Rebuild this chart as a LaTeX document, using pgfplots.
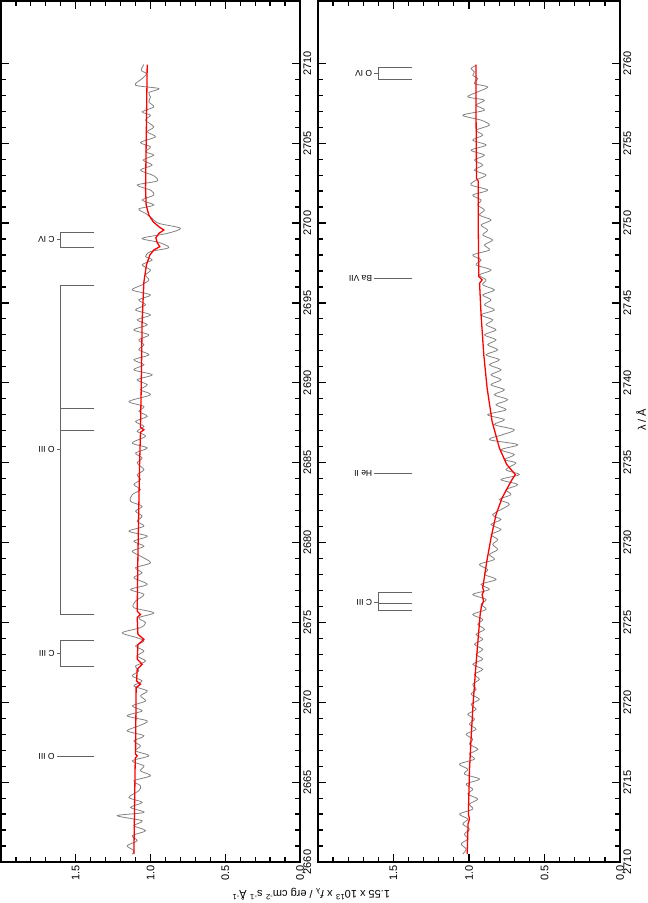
\documentclass[border=0pt]{standalone}
\usepackage{pgfplots}
\pgfplotsset{compat=1.18}
\usepackage{pgfplotstable}
\usepackage{fontspec}
\setmainfont{Liberation Sans}
\definecolor{specgray}{RGB}{130,130,130}
\definecolor{idgray}{RGB}{100,100,100}

\pgfplotstableread{
wl f
2709.92 1.044
2709.56 1.062
2709.35 1.027
2709.04 1.056
2708.63 1.100
2708.42 0.944
2708.17 1.011
2707.90 1.000
2707.58 1.011
2707.27 0.978
2706.96 1.056
2706.75 1.000
2706.44 1.033
2706.02 0.978
2705.71 1.022
2705.40 0.967
2705.04 1.067
2704.77 1.000
2704.46 1.033
2704.25 0.978
2703.94 1.049
2703.63 0.989
2703.31 1.067
2702.96 0.978
2702.63 0.956
2702.38 1.089
2702.06 1.000
2701.75 0.978
2701.44 1.056
2701.13 0.978
2700.88 1.078
2700.60 1.033
2700.29 0.989
2699.98 0.944
2699.67 0.800
2699.35 0.889
2699.04 1.056
2698.79 0.944
2698.46 0.878
2698.21 1.000
2697.90 1.033
2697.69 0.989
2697.38 1.056
2697.06 1.000
2696.75 1.033
2696.44 1.011
2696.13 1.056
2695.81 1.122
2695.50 1.000
2695.19 1.078
2694.88 1.033
2694.56 1.100
2694.25 1.000
2693.94 1.089
2693.63 1.022
2693.31 1.111
2693.00 1.011
2692.69 1.078
2692.38 1.044
2692.06 1.078
2691.75 1.011
2691.44 1.111
2691.13 1.044
2690.81 1.111
2690.50 0.989
2690.19 1.089
2689.88 1.022
2689.56 1.067
2689.25 1.000
2688.83 1.144
2688.52 1.044
2688.21 1.078
2687.90 1.022
2687.58 1.100
2687.27 1.044
2686.96 1.089
2686.65 1.033
2686.23 1.122
2685.92 1.022
2685.60 1.100
2685.29 1.056
2684.98 1.089
2684.56 1.044
2684.25 1.089
2683.94 1.067
2683.63 1.111
2683.31 1.067
2683.00 1.122
2682.58 1.133
2682.27 1.056
2681.96 1.100
2681.65 1.056
2681.33 1.089
2681.02 1.044
2680.71 1.144
2680.40 1.022
2680.08 1.111
2679.77 1.044
2679.46 1.122
2679.15 1.067
2678.73 1.000
2678.42 1.100
2678.10 1.056
2677.79 1.111
2677.38 1.022
2677.06 1.133
2676.75 1.044
2676.33 1.100
2675.92 1.111
2675.60 0.978
2675.29 1.078
2674.98 1.033
2674.67 1.067
2674.35 1.189
2674.04 1.089
2673.83 1.044
2673.52 1.100
2673.21 1.044
2672.90 1.089
2672.58 1.033
2672.27 1.100
2671.96 1.078
2671.65 1.122
2671.33 1.056
2671.02 1.111
2670.71 1.022
2670.40 1.067
2670.08 1.033
2669.77 1.122
2669.46 1.056
2669.15 1.156
2668.83 1.022
2668.52 1.078
2668.21 1.156
2667.90 1.044
2667.58 1.111
2667.27 1.067
2666.96 1.100
2666.65 1.011
2666.33 1.122
2666.02 1.044
2665.71 1.067
2665.40 1.000
2665.08 1.111
2664.77 1.067
2664.46 1.078
2664.04 1.144
2663.73 1.056
2663.42 1.133
2663.10 1.044
2662.90 1.222
2662.58 1.056
2662.27 1.111
2661.96 1.033
2661.65 1.122
2661.33 1.089
2661.02 1.156
2660.71 1.111
2660.50 1.122
}\leftgray

\pgfplotstableread{
wl f
2709.92 1.022
2706.33 1.027
2702.17 1.033
2701.13 1.029
2700.50 1.011
2700.08 0.982
2699.77 0.944
2699.56 0.911
2699.35 0.944
2699.08 0.964
2698.79 0.956
2698.52 0.938
2698.31 0.978
2698.00 1.004
2697.38 1.027
2696.33 1.044
2693.83 1.056
2689.67 1.062
2687.20 1.067
2687.06 1.044
2686.90 1.067
2684.88 1.073
2679.25 1.084
2675.70 1.089
2675.50 1.067
2675.30 1.089
2674.25 1.084
2673.94 1.044
2673.60 1.084
2672.70 1.089
2672.38 1.056
2672.06 1.089
2671.33 1.093
2671.13 1.067
2670.92 1.096
2666.75 1.100
2666.65 1.089
2666.50 1.102
2660.50 1.111
}\leftred

\pgfplotstableread{
wl f
2759.88 0.953
2759.67 0.986
2759.46 0.964
2759.25 0.975
2759.04 0.942
2758.73 0.964
2758.52 0.876
2758.21 0.942
2757.90 1.008
2757.69 0.898
2757.38 0.953
2757.06 0.898
2756.75 1.041
2756.44 0.920
2756.13 0.865
2755.81 0.953
2755.50 0.909
2755.19 0.975
2754.88 0.887
2754.56 0.986
2754.25 0.898
2753.94 0.964
2753.63 0.909
2753.31 0.964
2753.00 0.887
2752.69 0.953
2752.38 0.986
2752.06 0.876
2751.75 0.975
2751.44 0.920
2751.13 0.942
2750.81 0.898
2750.50 0.931
2750.19 0.854
2749.88 0.920
2749.56 0.876
2749.25 0.909
2748.94 0.843
2748.63 0.898
2748.31 0.865
2748.00 0.975
2747.69 0.920
2747.38 0.953
2747.06 0.854
2746.75 0.931
2746.44 0.887
2746.13 0.909
2745.81 0.832
2745.50 0.909
2745.19 0.854
2744.88 0.898
2744.56 0.832
2744.25 0.920
2743.94 0.843
2743.63 0.887
2743.31 0.821
2743.00 0.898
2742.69 0.821
2742.38 0.876
2742.06 0.810
2741.75 0.887
2741.44 0.799
2741.13 0.865
2740.81 0.788
2740.50 0.854
2740.19 0.788
2739.88 0.854
2739.56 0.766
2739.25 0.832
2738.94 0.744
2738.63 0.821
2738.31 0.755
2738.00 0.876
2737.69 0.766
2737.38 0.832
2737.06 0.700
2736.75 0.777
2736.44 0.865
2736.13 0.678
2735.81 0.788
2735.50 0.700
2735.19 0.766
2734.98 0.689
2734.56 0.755
2734.25 0.667
2733.94 0.788
2733.63 0.678
2733.31 0.755
2733.00 0.722
2732.69 0.799
2732.38 0.733
2731.75 0.843
2731.44 0.788
2731.13 0.854
2730.81 0.788
2730.50 0.854
2730.19 0.810
2729.88 0.843
2729.56 0.810
2729.25 0.865
2728.94 0.832
2728.63 0.931
2728.31 0.876
2728.00 0.898
2727.69 0.821
2727.38 0.920
2727.06 0.865
2726.75 0.975
2726.44 0.887
2726.13 0.920
2725.81 0.887
2725.50 0.975
2725.19 0.909
2724.88 0.942
2724.56 0.898
2724.25 0.953
2723.94 0.909
2723.63 0.964
2723.31 0.909
2723.00 0.953
2722.69 0.909
2722.38 0.975
2722.06 0.909
2721.75 0.964
2721.44 0.931
2721.13 0.975
2720.81 0.953
2720.50 0.986
2720.19 0.931
2719.88 0.986
2719.56 0.953
2719.25 1.008
2718.94 0.964
2718.63 0.997
2718.31 0.953
2718.00 1.019
2717.69 0.975
2717.38 0.997
2717.06 0.942
2716.75 0.997
2716.44 0.964
2716.13 1.063
2715.81 1.008
2715.50 1.030
2715.19 0.931
2714.88 1.019
2714.56 0.975
2714.25 1.008
2713.94 0.942
2713.63 0.997
2713.31 0.975
2713.00 1.063
2712.69 1.008
2712.38 1.041
2712.06 0.997
2711.75 1.030
2711.44 1.008
2711.13 1.052
2710.81 1.019
2710.50 1.041
}\rightgray

\pgfplotstableread{
wl f
2759.92 0.953
2756.33 0.953
2752.79 0.950
2752.63 0.939
2750.08 0.939
2746.65 0.935
2746.44 0.913
2746.23 0.930
2744.25 0.920
2741.75 0.902
2739.67 0.880
2737.58 0.847
2735.92 0.799
2734.88 0.750
2734.25 0.693
2733.94 0.715
2733.63 0.733
2732.79 0.781
2731.75 0.821
2730.29 0.854
2728.83 0.882
2727.17 0.909
2726.96 0.902
2726.75 0.913
2726.33 0.904
2726.00 0.918
2725.50 0.926
2724.04 0.939
2721.96 0.957
2719.88 0.973
2717.79 0.986
2715.71 0.997
2713.00 1.004
2712.69 0.997
2712.40 1.006
2710.50 1.012
}\rightred

\tikzset{idlab/.style={rotate=180, anchor=west, inner sep=0pt, font=\fontsize{8.5}{10}\selectfont}}

\begin{document}
\begin{tikzpicture}
\useasboundingbox (0pt,0pt) rectangle (648pt,903pt);
\pgfplotsset{
  panel/.style={
    anchor=south west, scale only axis, height=861pt,
    x dir=reverse, xmin=0, xmax=2,
    xtick={0,0.5,1,1.5},
    minor xtick={0.1,0.2,0.3,0.4,0.6,0.7,0.8,0.9,1.1,1.2,1.3,1.4,1.6,1.7,1.8,1.9},
    minor y tick num=4,
    xtick pos=both, ytick pos=both, yticklabel pos=right,
    tick align=inside,
    major tick length=8pt, minor tick length=5pt,
    every tick/.append style={line width=1.2pt, black},
    axis line style={line width=1.4pt},
    scaled ticks=false,
    /pgf/number format/assume math mode=true,
    tick label style={font=\fontsize{11}{13}\selectfont},
    xticklabel style={rotate=90, anchor=east, /pgf/number format/.cd, fixed, fixed zerofill, precision=1},
    yticklabel style={rotate=90, anchor=north, /pgf/number format/.cd, set thousands separator={}},
  },
  spec/.style={specgray, line width=0.8pt, no markers, smooth, tension=0.5},
  model/.style={red, line width=1.3pt, no markers},
  idl/.style={idgray, line width=0.8pt, no markers},
}
% ---------- left panel (2660-2714) ----------
\begin{axis}[panel, at={(1pt,41pt)}, width=299pt,
  ymin=2660, ymax=2713.9, ytick={2660,2665,...,2710}]
\addplot[spec] table[x=f,y=wl]{\leftgray};
\addplot[model] table[x=f,y=wl]{\leftred};
% O III 2666.6
\addplot[idl] coordinates {(1.375,2666.64) (1.628,2666.64)};
\node[idlab] at (axis cs:1.64,2666.64) {O III};
% C III
\addplot[idl] coordinates {(1.375,2673.90) (1.6,2673.90) (1.6,2672.27) (1.375,2672.27)};
\addplot[idl] coordinates {(1.6,2673.08) (1.628,2673.08)};
\node[idlab] at (axis cs:1.64,2673.08) {C III};
% O III multiplet
\addplot[idl] coordinates {(1.375,2675.50) (1.6,2675.50) (1.6,2696.10) (1.375,2696.10)};
\addplot[idl] coordinates {(1.375,2687.00) (1.6,2687.00)};
\addplot[idl] coordinates {(1.375,2688.40) (1.6,2688.40)};
\addplot[idl] coordinates {(1.6,2685.80) (1.628,2685.80)};
\node[idlab] at (axis cs:1.64,2685.80) {O III};
% C IV
\addplot[idl] coordinates {(1.375,2699.40) (1.6,2699.40) (1.6,2698.50) (1.375,2698.50)};
\addplot[idl] coordinates {(1.6,2698.95) (1.628,2698.95)};
\node[idlab] at (axis cs:1.64,2698.95) {C IV};
\end{axis}
% ---------- right panel (2710-2764) ----------
\begin{axis}[panel, at={(318pt,41pt)}, width=302pt,
  ymin=2710, ymax=2763.9, ytick={2710,2715,...,2760}]
\addplot[spec] table[x=f,y=wl]{\rightgray};
\addplot[model] table[x=f,y=wl]{\rightred};
% C III
\addplot[idl] coordinates {(1.375,2726.86) (1.6,2726.86) (1.6,2725.75) (1.375,2725.75)};
\addplot[idl] coordinates {(1.375,2726.21) (1.6,2726.21)};
\addplot[idl] coordinates {(1.6,2726.23) (1.628,2726.23)};
\node[idlab] at (axis cs:1.64,2726.23) {C III};
% He II
\addplot[idl] coordinates {(1.375,2734.30) (1.628,2734.30)};
\node[idlab] at (axis cs:1.64,2734.30) {He II};
% Ba VII
\addplot[idl] coordinates {(1.375,2746.56) (1.628,2746.56)};
\node[idlab] at (axis cs:1.64,2746.56) {Ba VII};
% O IV
\addplot[idl] coordinates {(1.375,2759.75) (1.6,2759.75) (1.6,2759.00) (1.375,2759.00)};
\addplot[idl] coordinates {(1.6,2759.38) (1.628,2759.38)};
\node[idlab] at (axis cs:1.64,2759.38) {O IV};
\end{axis}
\node[rotate=180, font=\fontsize{11}{13}\selectfont] at (311pt,9pt)
  {1.55 x 10\textsuperscript{13} x \textit{f}\textsubscript{λ} / erg cm\textsuperscript{-2} s\textsuperscript{-1} Å\textsuperscript{-1}};
\node[rotate=90, font=\fontsize{11}{13}\selectfont] at (641pt,483pt) {λ / Å};
\end{tikzpicture}
\end{document}
